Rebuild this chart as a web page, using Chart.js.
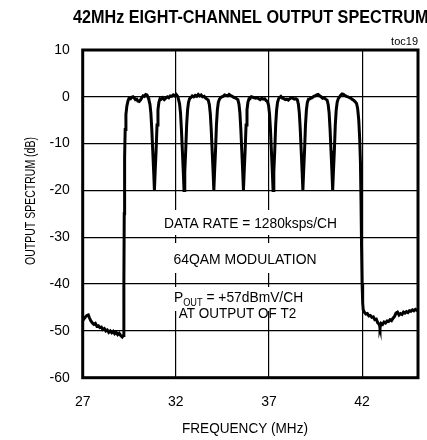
<!DOCTYPE html>
<html><head><meta charset="utf-8">
<script src="https://cdn.jsdelivr.net/npm/chart.js@4.4.0/dist/chart.umd.min.js"></script>
<style>html,body{margin:0;padding:0;background:#fff;}#wrap{width:427px;height:440px;}</style>
</head><body><div id="wrap"><canvas id="c" width="427" height="440"></canvas></div>
<script>
const titleText = '42MHz EIGHT-CHANNEL OUTPUT SPECTRUM';
const xTitle = 'FREQUENCY (MHz)';
const yTitle = 'OUTPUT SPECTRUM (dB)';
const noteText = 'toc19';
const annoLine1 = 'DATA RATE = 1280ksps/CH';
const annoLine2 = '64QAM MODULATION';
const annoLine3a = 'P';
const annoLine3sub = 'OUT';
const annoLine3b = ' = +57dBmV/CH';
const annoLine4 = 'AT OUTPUT OF T2';
const xTicks = [27, 32, 37, 42];
const yTicks = [10, 0, -10, -20, -30, -40, -50, -60];

const leftFloorMHz = [27.00,27.08,27.15,27.22,27.30,27.36,27.44,27.52,27.60,27.68,27.76,27.84,27.92,28.00,28.08,28.16,28.24,28.32,28.40,28.48,28.56,28.64,28.72,28.80,28.88,28.96,29.04,29.12,29.18];
const leftFloorDb  = [-47.8,-47.4,-47.0,-46.7,-46.6,-47.2,-47.9,-48.3,-48.6,-48.4,-49.0,-48.9,-49.3,-49.2,-49.7,-49.5,-50.0,-49.8,-50.3,-50.0,-50.4,-50.1,-50.6,-50.3,-50.8,-50.5,-51.0,-51.3,-51.0];

const bandMHz = [
 29.21,29.23,29.25,29.28,29.32,29.37,29.43,29.49,
 29.57,29.63,29.70,29.76,29.83,29.90,29.96,30.03,30.10,30.17,30.24,30.31,30.38,30.45,30.52,
 30.55,30.61,30.66,30.71,30.76,30.81,30.85,30.89,30.94,30.99,31.04,31.09,31.15,
 31.22,31.30,31.38,31.46,31.54,31.62,31.70,31.78,31.86,31.94,32.02,32.10,
 32.14,32.20,32.25,32.30,32.35,32.40,32.44,32.48,32.53,32.58,32.63,32.68,32.74,
 32.80,32.88,32.96,33.04,33.12,33.20,33.28,33.36,33.44,33.52,33.60,33.68,
 33.74,33.80,33.85,33.90,33.95,34.00,34.04,34.08,34.13,34.18,34.23,34.28,34.34,
 34.38,34.46,34.54,34.62,34.70,34.78,34.86,34.94,35.02,35.10,35.18,35.26,
 35.33,35.39,35.44,35.49,35.54,35.59,35.63,35.67,35.72,35.77,35.82,35.87,35.93,
 35.97,36.05,36.13,36.21,36.29,36.37,36.45,36.53,36.61,36.69,36.77,36.85,
 36.92,36.98,37.03,37.08,37.13,37.18,37.22,37.26,37.31,37.36,37.41,37.46,37.52,
 37.56,37.64,37.72,37.80,37.88,37.96,38.04,38.12,38.20,38.28,38.36,38.44,
 38.52,38.58,38.63,38.68,38.73,38.78,38.82,38.86,38.91,38.96,39.01,39.06,39.12,
 39.16,39.24,39.32,39.40,39.48,39.56,39.64,39.72,39.80,39.88,39.96,40.04,
 40.12,40.18,40.23,40.28,40.33,40.38,40.42,40.46,40.51,40.56,40.61,40.66,40.72,
 40.76,40.84,40.92,41.00,41.08,41.16,41.24,41.32,41.40,41.48,41.56,41.64,
 41.70,41.76,41.82,41.87,41.91,41.94,41.97,42.00,42.03
];
const bandDb = [
 -40,-25,-13,-7,-3.8,-2.0,-0.9,-0.3,
 -0.4,-0.1,0.0,-0.2,-0.6,-0.5,-0.9,-1.0,-0.7,-0.2,0.2,0.1,0.5,0.4,-0.2,
 -0.6,-1.6,-3.5,-7,-11.5,-16,-20,-16,-11.5,-6,-2.8,-1.2,-0.4,
 -0.5,-0.2,-0.6,-0.3,0.0,-0.2,0.2,0.1,0.4,0.2,0.5,0.1,
 -0.5,-1.5,-3.4,-7,-11.5,-16,-20,-16,-11.5,-6,-2.8,-1.2,-0.4,
 -0.2,0.2,0.0,0.3,0.1,0.5,0.2,0.4,0.0,0.1,-0.3,-0.5,
 -0.7,-1.7,-3.6,-7,-11.5,-16,-20,-16,-11.5,-6,-2.8,-1.2,-0.5,
 -0.3,0.0,0.1,0.4,0.3,0.2,0.5,0.3,0.1,-0.1,-0.2,-0.4,
 -0.6,-1.6,-3.5,-7,-11.5,-16,-20,-16,-11.5,-6,-2.8,-1.2,-0.4,
 -0.3,0.0,-0.1,-0.2,-0.3,-0.2,-0.4,-0.6,-0.3,-0.5,-0.4,-0.8,
 -1.0,-1.9,-3.7,-7,-11.5,-16,-20,-16,-11.5,-6,-2.8,-1.2,-0.4,
 -0.2,0.1,-0.3,-0.4,-0.6,-0.5,-0.7,-0.4,-0.2,-0.3,-0.5,-0.4,
 -0.6,-1.6,-3.5,-7,-11.5,-16,-20,-16,-11.5,-6,-2.8,-1.2,-0.5,
 -0.5,-0.3,-0.2,0.1,0.2,0.4,0.5,0.2,0.0,-0.3,-0.2,-0.5,
 -0.7,-1.7,-3.5,-7,-11.5,-16,-20,-16,-11.5,-6,-2.8,-1.2,-0.4,
 -0.2,0.3,0.6,0.5,0.3,0.1,0.0,-0.2,-0.3,-0.6,-0.8,-1.1,
 -1.4,-2.5,-5,-9,-14,-22,-32,-40,-44
];

const rightFloorMHz = [42.06,42.12,42.20,42.28,42.36,42.44,42.52,42.60,42.68,42.76,42.84,42.92,42.96,43.02,43.10,43.18,43.26,43.34,43.42,43.50,43.58,43.66,43.74,43.82,43.90,43.98,44.06,44.14,44.22,44.30,44.38,44.46,44.54,44.62,44.70,44.78,44.86,44.94,45.00];
const rightFloorDb  = [-45.5,-46.0,-46.4,-46.3,-46.8,-46.7,-47.1,-47.0,-47.6,-47.5,-48.3,-48.6,-49.3,-48.4,-48.6,-48.1,-48.3,-47.9,-48.0,-47.6,-47.8,-47.3,-46.9,-46.2,-46.0,-46.6,-46.3,-46.5,-46.0,-46.2,-45.9,-46.1,-45.7,-45.8,-45.5,-45.7,-45.4,-45.6,-45.5];

const allMHz = leftFloorMHz.concat(bandMHz, rightFloorMHz);
const allDb = leftFloorDb.concat(bandDb, rightFloorDb);
const points = allMHz.map((f, i) => ({x: f, y: allDb[i]}));

const FONT = "'Liberation Sans', Arial, Helvetica, sans-serif";

function sText(ctx, str, x, y, font, align, sx) {
  ctx.save();
  ctx.font = font;
  ctx.textBaseline = 'alphabetic';
  ctx.textAlign = 'left';
  const w = ctx.measureText(str).width * sx;
  let x0 = x;
  if (align === 'center') x0 = x - w / 2;
  else if (align === 'right') x0 = x - w;
  ctx.translate(x0, y);
  ctx.scale(sx, 1);
  ctx.fillStyle = '#000';
  ctx.fillText(str, 0, 0);
  ctx.restore();
  return w;
}

const decor = {
  id: 'decor',
  beforeDatasetsDraw(chart) {
    const ctx = chart.ctx;
    ctx.save();
    ctx.fillStyle = '#fff';
    ctx.fillRect(158, 210, 184, 25);
    ctx.fillRect(168, 243, 154, 30);
    ctx.fillRect(170, 287, 138, 24);
    ctx.restore();
    const f15 = '15px ' + FONT;
    sText(ctx, annoLine1, 250.5, 228.3, f15, 'center', 0.92);
    sText(ctx, annoLine2, 245, 264.3, f15, 'center', 0.93);
    let x = 174;
    x += sText(ctx, annoLine3a, x, 301.7, f15, 'left', 0.92);
    x += sText(ctx, annoLine3sub, x, 305.5, '10px ' + FONT, 'left', 0.92);
    sText(ctx, annoLine3b, x, 301.7, f15, 'left', 0.92);
    sText(ctx, annoLine4, 237.5, 318.3, f15, 'center', 0.9);
  },
  afterDraw(chart) {
    const ctx = chart.ctx;
    const a = chart.chartArea;
    ctx.save();
    ctx.strokeStyle = '#000';
    ctx.lineWidth = 3;
    ctx.strokeRect(a.left, a.top, a.right - a.left, a.bottom - a.top);
    ctx.restore();
    sText(ctx, titleText, 73, 23.3, 'bold 18px ' + FONT, 'left', 0.9);
    sText(ctx, noteText, 418, 45, '11px ' + FONT, 'right', 1);
    sText(ctx, xTitle, 245, 433, '14px ' + FONT, 'center', 0.97);
    ctx.save();
    ctx.font = '15px ' + FONT;
    ctx.fillStyle = '#000';
    ctx.textAlign = 'center';
    ctx.textBaseline = 'alphabetic';
    ctx.setTransform(0, -0.7, 1, 0, 35, 201);
    ctx.fillText(yTitle, 0, 0);
    ctx.restore();
  }
};

new Chart(document.getElementById('c'), {
  type: 'line',
  data: {
    datasets: [{
      data: points,
      borderColor: '#000',
      borderWidth: 3,
      pointRadius: 0,
      tension: 0,
      fill: false
    }]
  },
  options: {
    responsive: false,
    animation: false,
    devicePixelRatio: 1,
    layout: { padding: { top: 50, right: 9, left: 0, bottom: 0 } },
    plugins: { legend: { display: false }, tooltip: { enabled: false }, title: { display: false } },
    scales: {
      x: {
        type: 'linear', min: 27, max: 45,
        afterBuildTicks: s => { s.ticks = xTicks.map(v => ({ value: v })); },
        afterFit: s => { s.height = 62.3; },
        grid: { color: '#000', lineWidth: 1.2, drawTicks: false },
        border: { display: false },
        ticks: { color: '#000', font: { family: FONT, size: 14 }, padding: 16, maxRotation: 0, autoSkip: false }
      },
      y: {
        type: 'linear', min: -60, max: 10,
        afterBuildTicks: s => { s.ticks = yTicks.map(v => ({ value: v })); },
        afterFit: s => { s.width = 82.7; },
        grid: { color: '#000', lineWidth: 1.2, drawTicks: false },
        border: { display: false },
        ticks: { color: '#000', font: { family: FONT, size: 14 }, padding: 13, autoSkip: false }
      }
    }
  },
  plugins: [decor]
});
</script></body></html>
